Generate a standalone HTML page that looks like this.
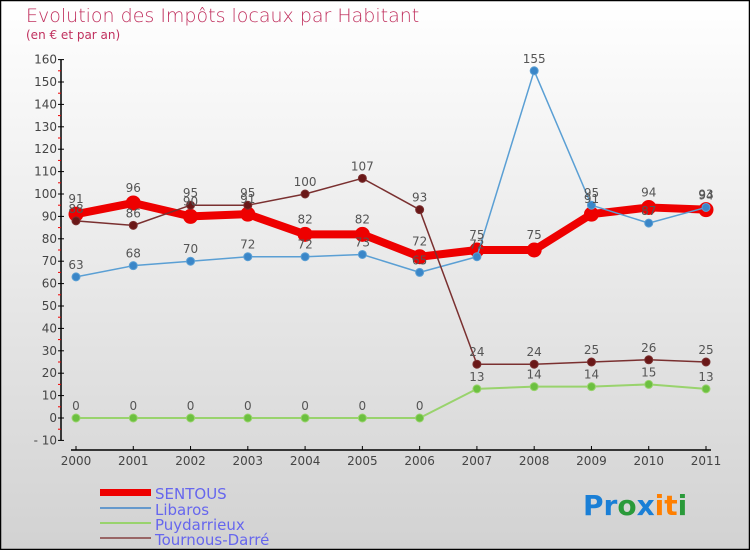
<!DOCTYPE html>
<html><head><meta charset="utf-8"><style>
body{margin:0;width:750px;height:550px;overflow:hidden}
svg{display:block;font-family:"DejaVu Sans","Liberation Sans",sans-serif}
</style></head><body>
<svg id="chart" width="750" height="550" xmlns="http://www.w3.org/2000/svg">
<defs><linearGradient id="bg" x1="0" y1="0" x2="0" y2="1"><stop offset="0" stop-color="#ffffff"/><stop offset="1" stop-color="#d2d2d2"/></linearGradient></defs>
<rect x="0.5" y="0.5" width="749" height="549" fill="url(#bg)" stroke="#000" stroke-width="1.5"/>
<text x="26" y="22" font-size="19" fill="#c0305e" font-weight="200">Evolution des Impôts locaux par Habitant</text>
<text x="26" y="39" font-size="12" fill="#c0305e">(en € et par an)</text>
<g id="axes"></g><g id="series"></g><g id="labels"></g>
<g>
<rect x="100" y="489" width="51" height="7" fill="#e00"/>
<text x="155" y="499" font-size="15" fill="#6666ee">SENTOUS</text>
<line x1="100" y1="508" x2="151" y2="508" stroke="#6699cc" stroke-width="2"/>
<text x="155" y="515" font-size="15" fill="#6666ee">Libaros</text>
<line x1="100" y1="523" x2="151" y2="523" stroke="#99d36d" stroke-width="2"/>
<text x="155" y="530" font-size="15" fill="#6666ee">Puydarrieux</text>
<line x1="100" y1="538" x2="151" y2="538" stroke="#996666" stroke-width="2"/>
<text x="155" y="545" font-size="15" fill="#6666ee">Tournous-Darré</text>
</g>
<text x="583" y="515" font-size="28" font-weight="bold"><tspan fill="#1a7fd6">Pr</tspan><tspan fill="#2a9a3a">o</tspan><tspan fill="#1a7fd6">x</tspan><tspan fill="#ff7f00">it</tspan><tspan fill="#2a9a3a">i</tspan></text>
</svg>
<script>
const years=[2000,2001,2002,2003,2004,2005,2006,2007,2008,2009,2010,2011];
const yTicks=[-10,0,10,20,30,40,50,60,70,80,90,100,110,120,130,140,150,160];
const sentous=[91,96,90,91,82,82,72,75,75,91,94,93];
const libaros=[63,68,70,72,72,73,65,72,155,95,87,94];
const puydarrieux=[0,0,0,0,0,0,0,13,14,14,15,13];
const tournous=[88,86,95,95,100,107,93,24,24,25,26,25];
const NS="http://www.w3.org/2000/svg";
const X=i=>76+i*(706-76)/(years.length-1);
const Y=v=>418-v*2.24;
function mk(tag,attrs,parent){const e=document.createElementNS(NS,tag);for(const k in attrs)e.setAttribute(k,attrs[k]);parent.appendChild(e);return e;}
const axes=document.getElementById('axes');
const yaxis=mk('line',{x1:61,y1:Y(160),x2:61,y2:Y(-10),stroke:'#000','stroke-width':1.5},axes);


yTicks.forEach(v=>{
  const t=mk('line',{x1:58,x2:64,y1:Y(v),y2:Y(v),stroke:'#000'},axes);
  
  
  if(v<160){const m=mk('line',{x1:58,x2:61,y1:Y(v+5),y2:Y(v+5),stroke:'#e00'},axes);
  
  }
  const l=mk('text',{x:57,y:Y(v)+4,'font-size':12,fill:'#444','text-anchor':'end'},axes);
  
  
  l.textContent=v<0?'- '+Math.abs(v):v;
});
const xaxis=mk('line',{x1:X(0)-5,y1:450,x2:X(11)+5,y2:450,stroke:'#000','stroke-width':1.5},axes);


years.forEach((yr,i)=>{
  const t=mk('line',{x1:X(i),x2:X(i),y1:446,y2:450,stroke:'#000'},axes);
  
  
  const l=mk('text',{x:X(i),y:465,'font-size':12,fill:'#444','text-anchor':'middle'},axes);
  
  
  l.textContent=yr;
});
const sg=document.getElementById('series'),lg=document.getElementById('labels');
function draw(name,data,color,dot,w,r){
  const g=mk('g',{},sg);
  
  
  const p=mk('polyline',{points:data.map((v,i)=>X(i)+','+Y(v)).join(' '),fill:'none',stroke:color,'stroke-width':w,'stroke-linejoin':'round'},g);
  
  
  data.forEach((v,i)=>{
    const c=mk('circle',{cx:X(i),cy:Y(v),r:r,fill:dot,stroke:color,'stroke-width':1},g);
    
    
    const t=mk('text',{x:X(i),y:Y(v)-r-4,'font-size':12,fill:'#555','text-anchor':'middle'},lg);
    
    
    t.textContent=v;
  });
}
draw('sentous',sentous,'#ee0000','#ee0000',8,7);
draw('libaros',libaros,'#5a9fd4','#3a86c8',1.5,4);
draw('puydarrieux',puydarrieux,'#99d36d','#6cc040',2,4);
draw('tournous-darre',tournous,'#7a3030','#6a1818',1.5,4);
</script>
</body></html>
